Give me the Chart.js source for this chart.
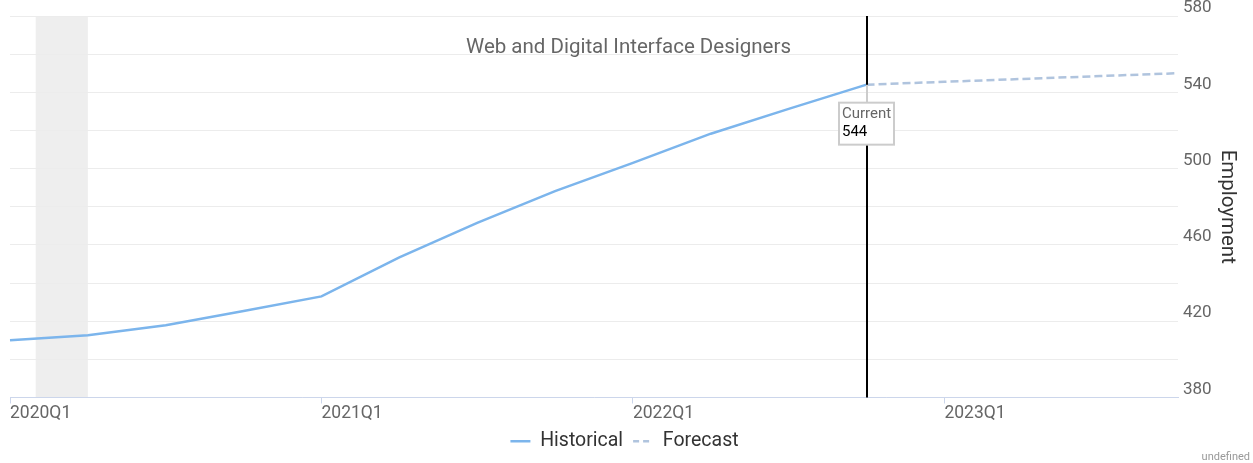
<!DOCTYPE html>
<html>
<head>
<meta charset="utf-8">
<script src="https://cdn.jsdelivr.net/npm/chart.js@4/dist/chart.umd.min.js"></script>
<style>
  html, body { margin: 0; padding: 0; background: #fff; }
</style>
</head>
<body>
<canvas id="EmploymentChart" width="1253" height="463"></canvas>
<script>
const chartTitle = 'Web and Digital Interface Designers';
const quarters = ['2020Q1', '2020Q2', '2020Q3', '2020Q4',
                  '2021Q1', '2021Q2', '2021Q3', '2021Q4',
                  '2022Q1', '2022Q2', '2022Q3', '2022Q4',
                  '2023Q1', '2023Q2', '2023Q3', '2023Q4'];
const historical = [410, 412.6, 417.9, 425.3, 433, 453.5, 471.5, 488.2, 503, 518.3, 531.3, 544];
const forecast = [544, 545.5, 547, 548.5, 550];
const currentIndex = 11;
const currentValue = 544;
const recessionBand = [0.33, 1];
const yTickLabels = [380, 420, 460, 500, 540, 580];

const historicalData = quarters.map((q, i) => i < historical.length ? historical[i] : null);
const forecastData = quarters.map((q, i) => i >= currentIndex ? forecast[i - currentIndex] : null);

Chart.defaults.font.family = 'Roboto';

// grey recession band, drawn under the grid
const bandPlugin = {
  id: 'band',
  beforeDraw(chart) {
    const {ctx, chartArea, scales: {x}} = chart;
    const x0 = x.getPixelForValue(recessionBand[0]);
    const x1 = x.getPixelForValue(recessionBand[1]);
    ctx.save();
    ctx.fillStyle = '#eeeeee';
    ctx.fillRect(x0, chartArea.top, x1 - x0, chartArea.bottom - chartArea.top);
    ctx.restore();
  }
};

// "current" line and its label box
const currentPlugin = {
  id: 'current',
  afterDatasetsDraw(chart) {
    const {ctx, chartArea, scales: {x, y}} = chart;
    const px = Math.round(x.getPixelForValue(currentIndex));
    const py = y.getPixelForValue(currentValue);
    ctx.save();
    ctx.strokeStyle = '#000';
    ctx.lineWidth = 2;
    ctx.beginPath();
    ctx.moveTo(px, chartArea.top);
    ctx.lineTo(px, chartArea.bottom);
    ctx.stroke();

    const boxW = 55, boxH = 42;
    const bx = px - 28, by = py + 18;
    ctx.strokeStyle = '#cccccc';
    ctx.beginPath();
    ctx.moveTo(px, py);
    ctx.lineTo(px, by);
    ctx.stroke();
    ctx.fillStyle = '#fff';
    ctx.fillRect(bx, by, boxW, boxH);
    ctx.strokeRect(bx, by, boxW, boxH);

    ctx.font = '15px Roboto';
    ctx.textAlign = 'left';
    ctx.textBaseline = 'middle';
    ctx.fillStyle = '#666666';
    ctx.fillText('Current', bx + 3, by + 12);
    ctx.fillStyle = '#000';
    ctx.fillText(String(currentValue), bx + 3, by + 30);
    ctx.restore();
  },
  afterDraw(chart) {
    const {ctx} = chart;
    ctx.save();
    ctx.textAlign = 'center';
    ctx.textBaseline = 'middle';
    ctx.font = '20.5px Roboto';
    ctx.fillStyle = '#666666';
    ctx.fillText(chartTitle, chart.width / 2 + 2, 48);
    ctx.textAlign = 'right';
    ctx.font = '11px Roboto';
    ctx.fillStyle = '#999999';
    ctx.fillText('undefined', chart.width - 3, 457);
    ctx.restore();
  }
};

const ctx = document.getElementById('EmploymentChart').getContext('2d');
const myChart = new Chart(ctx, {
  type: 'line',
  data: {
    labels: quarters,
    datasets: [{
      label: 'Historical',
      data: historicalData,
      borderColor: '#7cb5ec',
      backgroundColor: '#7cb5ec',
      borderWidth: 2.5,
      pointRadius: 0,
      tension: 0
    }, {
      label: 'Forecast',
      data: forecastData,
      borderColor: '#b0c4de',
      backgroundColor: '#b0c4de',
      borderWidth: 2.5,
      borderDash: [8, 4],
      pointRadius: 0,
      tension: 0
    }]
  },
  options: {
    responsive: false,
    animation: false,
    layout: { padding: { left: 10, top: 16, right: 14, bottom: 2 } },
    plugins: {
      tooltip: { enabled: false },
      legend: {
        position: 'bottom',
        labels: {
          usePointStyle: true,
          pointStyleWidth: 20,
          color: '#333333',
          font: { size: 19.5 },
          padding: 10,
          generateLabels: (chart) => chart.data.datasets.map((ds, i) => ({
            text: ds.label,
            strokeStyle: ds.borderColor,
            fillStyle: ds.borderColor,
            lineWidth: 2.5,
            lineDash: [6, 4],
            pointStyle: 'line',
            hidden: false,
            datasetIndex: i,
            fontColor: '#333333'
          })).map((item, i) => i === 0 ? Object.assign(item, { lineDash: [] }) : item)
        }
      }
    },
    scales: {
      x: {
        ticks: {
          autoSkip: false,
          maxRotation: 0,
          align: 'start',
          padding: 0,
          color: '#666666',
          font: { size: 17.5 },
          callback: (v, i) => i % 4 === 0 ? quarters[i] : ''
        },
        grid: {
          drawOnChartArea: false,
          tickLength: 6,
          color: (c) => c.index % 4 === 0 ? '#ccd6eb' : 'rgba(0,0,0,0)'
        },
        border: { color: '#ccd6eb', width: 1 },
        afterFit: (scale) => { scale.height = 24; }
      },
      y: {
        position: 'right',
        min: 380,
        max: 580,
        ticks: {
          stepSize: 20,
          padding: 5,
          labelOffset: -8,
          color: '#666666',
          font: { size: 17 },
          callback: (v) => yTickLabels.includes(v) ? v : ''
        },
        grid: { color: '#ececec', drawTicks: false },
        border: { display: false },
        title: {
          display: true,
          text: 'Employment',
          color: '#333333',
          font: { size: 20.5 },
          padding: 0
        },
        afterFit: (scale) => { scale.width = 61; }
      }
    }
  },
  plugins: [bandPlugin, currentPlugin]
});
</script>
</body>
</html>
